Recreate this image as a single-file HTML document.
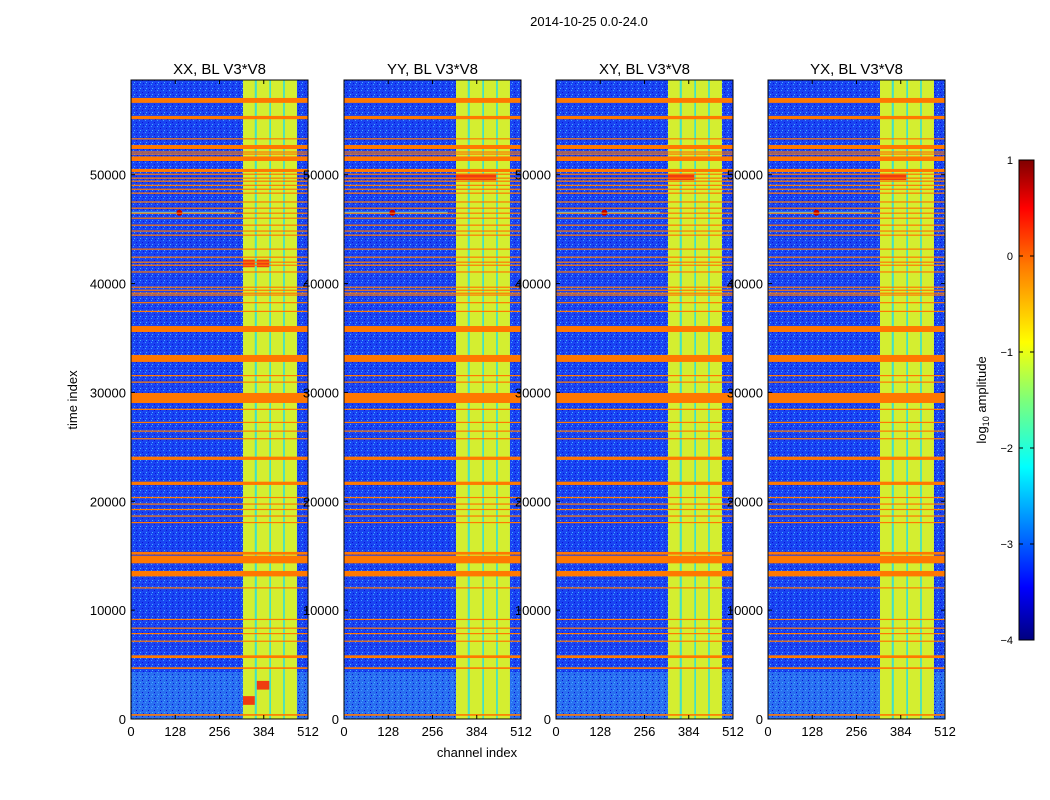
<!DOCTYPE html>
<html><head><meta charset="utf-8"><style>
body{margin:0;background:#fff;}
svg{display:block;font-family:"Liberation Sans",sans-serif;}
</style></head><body>
<svg id="fig" width="1050" height="800" viewBox="0 0 1050 800">
<defs>
<linearGradient id="jet" x1="0" y1="1" x2="0" y2="0">
<stop offset="0" stop-color="#00007f"/><stop offset="0.11" stop-color="#0000ff"/>
<stop offset="0.36" stop-color="#00ffff"/><stop offset="0.5" stop-color="#7dff7a"/>
<stop offset="0.62" stop-color="#ffff00"/><stop offset="0.78" stop-color="#ff7a00"/>
<stop offset="0.9" stop-color="#ff0000"/><stop offset="1" stop-color="#7f0000"/>
</linearGradient>
<pattern id="speck" width="6" height="6" patternUnits="userSpaceOnUse">
<rect x="1" y="0" width="1" height="1" fill="#3aa0ff"/>
<rect x="4" y="2" width="1" height="1" fill="#0a10d0"/>
<rect x="2" y="4" width="1" height="1" fill="#40b0ff"/>
<rect x="5" y="5" width="1" height="1" fill="#0018e0"/>
</pattern>
</defs>
<text x="589" y="26" font-size="13" text-anchor="middle">2014-10-25 0.0-24.0</text>
<text x="477" y="757" font-size="13" text-anchor="middle">channel index</text>
<text transform="translate(77,400) rotate(-90)" font-size="13" text-anchor="middle">time index</text>
<g id="panels"></g>
<g id="cbar">
<rect x="1019" y="160" width="15" height="480" fill="url(#jet)" stroke="#000" stroke-width="1"/>
</g>
<text transform="translate(986,400) rotate(-90)" font-size="13" text-anchor="middle">log<tspan font-size="9" dy="3">10</tspan><tspan dy="-3"> amplitude</tspan></text>
</svg>
<script>
const NS="http://www.w3.org/2000/svg";
const titles=["XX, BL V3*V8","YY, BL V3*V8","XY, BL V3*V8","YX, BL V3*V8"];
const panelLeft=[131,344,556,768];
const xTicks=[0,128,256,384,512];
const yTicks=[0,10000,20000,30000,40000,50000];
const tMax=58700, chMax=512;
// bright channel sub-bands
const bandStart=[324,364,405,445];
const bandEnd=[358,400,440,480];
// flagged rows (start time, duration)
const flagTime=[56600,55100,53250,52360,52060,51870,51600,51260,50250,50020,49660,49380,49000,48640,48280,47450,46900,46440,45980,45340,44800,44420,43120,42400,41940,41660,41020,39640,39360,39090,38900,38200,37400,35550,32800,31500,30900,29030,28400,27200,26400,25700,23800,21500,20300,19700,19200,18600,18000,15100,14300,13100,12000,9100,8300,7800,7100,5600,4600,300];
const flagDur=[450,300,100,370,80,80,80,370,280,80,80,80,80,80,80,100,80,80,80,80,80,80,100,80,80,80,100,80,80,80,100,100,100,550,640,100,100,920,100,100,100,100,300,300,100,100,100,100,100,250,700,500,100,100,100,100,100,250,150,150];
// hot patches in band region
const hotPanel=[0,0,0,0,1,1,2,3];
const hotCh0=[324,364,324,364,324,364,324,324];
const hotCh1=[358,400,358,400,440,440,400,400];
const hotT=[41500,41500,1300,2700,49500,49500,49500,49500];
const hotD=[700,700,800,800,600,600,600,600];
const cbTicks=[1,0,-1,-2,-3,-4];

const W=177, yTop=80, yBot=719, H=yBot-yTop;
const cbTop=160, cbBot=640;
function yT(t){return yBot-t/tMax*H;}
function xC(p,c){return panelLeft[p]+c/chMax*W;}
function yCb(v){return cbBot-(v+4)/5*(cbBot-cbTop);}
const panels=document.getElementById('panels');
function mk(tag,attrs,parent){const e=document.createElementNS(NS,tag);for(const k in attrs)e.setAttribute(k,attrs[k]);parent.appendChild(e);return e;}

for(let p=0;p<4;p++){
  const g=mk('g',{},panels);
  
  
  const L=panelLeft[p];
  mk('rect',{x:L,y:yTop,width:W,height:H,fill:'#1a44f2'},g);
  mk('rect',{x:L,y:yT(4300),width:W,height:yT(0)-yT(4300),fill:'#2a70f0'},g);
  mk('rect',{x:L,y:yTop,width:W,height:H,fill:'url(#speck)'},g);
  mk('rect',{x:xC(p,bandStart[0]),y:yTop,width:xC(p,bandEnd[3])-xC(p,bandStart[0]),height:H,fill:'#40e0c8'},g);
  for(let i=0;i<bandStart.length;i++){
    const r=mk('rect',{x:xC(p,bandStart[i]),y:yTop,width:xC(p,bandEnd[i])-xC(p,bandStart[i]),height:H,fill:'#d4ee30'},g);
    
    
  }
  for(let i=0;i<hotPanel.length;i++){
    if(hotPanel[i]!==p)continue;
    mk('rect',{x:xC(p,hotCh0[i]),y:yT(hotT[i]+hotD[i]),width:xC(p,hotCh1[i])-xC(p,hotCh0[i]),height:yT(hotT[i])-yT(hotT[i]+hotD[i]),fill:'#f03c10'},g);
  }
  mk('line',{x1:L,x2:xC(p,300),y1:yT(46500),y2:yT(46500),stroke:'#50d8f0','stroke-width':2},g);
  mk('circle',{cx:xC(p,140),cy:yT(46500),r:3,fill:'#c00000'},g);
  for(let i=0;i<flagTime.length;i++){
    const y0=yT(flagTime[i]+flagDur[i]), y1=yT(flagTime[i]);
    const r=mk('rect',{x:L,y:y0,width:W,height:Math.max(1.2,y1-y0),fill:'#ff7800'},g);
    
    
  }
  mk('rect',{x:L,y:yTop,width:W,height:H,fill:'none',stroke:'#000','stroke-width':1},g);
  const t=mk('text',{x:L+W/2,y:74,'font-size':15,'text-anchor':'middle'},g);
  t.textContent=titles[p];
  
  
  xTicks.forEach(v=>{
    const x=xC(p,v);
    mk('line',{x1:x,x2:x,y1:yBot,y2:yBot-4,stroke:'#000'},g);
    mk('line',{x1:x,x2:x,y1:yTop,y2:yTop+4,stroke:'#000'},g);
    const l=mk('text',{x:x,y:736,'font-size':13,'text-anchor':'middle'},g);
    l.textContent=v;
    
    
  });
  yTicks.forEach(v=>{
    const y=yT(v);
    mk('line',{x1:L,x2:L+4,y1:y,y2:y,stroke:'#000'},g);
    mk('line',{x1:L+W,x2:L+W-4,y1:y,y2:y,stroke:'#000'},g);
    const l=mk('text',{x:L-5,y:y+5,'font-size':13,'text-anchor':'end'},g);
    l.textContent=v;
    
    
  });
}
const cb=document.getElementById('cbar');
cbTicks.forEach(v=>{
  const y=yCb(v);
  mk('line',{x1:1019,x2:1023,y1:y,y2:y,stroke:'#000'},cb);
  mk('line',{x1:1034,x2:1030,y1:y,y2:y,stroke:'#000'},cb);
  const l=mk('text',{x:1013,y:y+4,'font-size':11,'text-anchor':'end'},cb);
  l.textContent=v<0?'\u2212'+(-v):v;
  
  
});
</script>
</body></html>
